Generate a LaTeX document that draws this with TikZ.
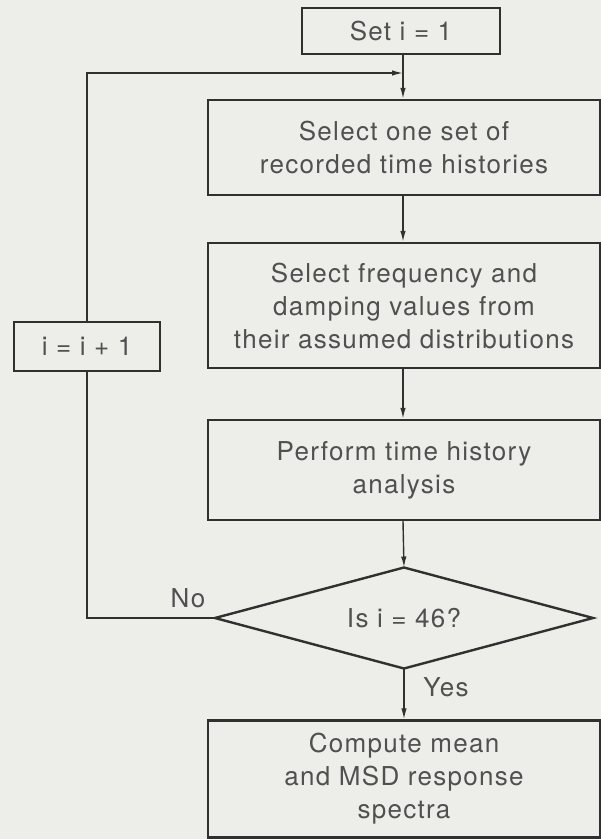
\documentclass[tikz,border=0pt]{standalone}
\usepackage{fontspec}
\setmainfont[LetterSpace=5]{TeX Gyre Heros}
\usetikzlibrary{shapes.geometric,arrows.meta}
\definecolor{bg}{HTML}{EDEDEA}
\definecolor{ln}{HTML}{303030}
\definecolor{tx}{HTML}{505050}
\begin{document}
\begin{tikzpicture}[x=1pt,y=-1pt,
  box/.style={draw=ln,line width=2.4pt,fill=none,rectangle,inner sep=0pt,
    align=center,text=tx,font=\fontsize{26}{33}\selectfont},
  dec/.style={draw=ln,line width=2.4pt,diamond,inner sep=0pt,outer sep=0pt,
    text=tx,font=\fontsize{26}{33}\selectfont},
  conn/.style={draw=ln,line width=1.4pt},
  arr/.style={conn,-{Latex[length=11pt,width=5.5pt]}},
  lbl/.style={text=tx,font=\fontsize{26}{33}\selectfont,inner sep=0pt}]
\fill[bg] (0,0) rectangle (601,839);
\useasboundingbox (0,0) rectangle (601,839);
\node[box,minimum width=198pt,minimum height=46pt] (set) at (401,31) {Set i = 1};
\node[box,minimum width=392pt,minimum height=95pt] (b1) at (404,147.5) {Select one set of\\recorded time histories};
\node[box,minimum width=392pt,minimum height=125pt] (b2) at (404,305.5) {Select frequency and\\damping values from\\their assumed distributions};
\node[box,minimum width=392pt,minimum height=100pt] (b3) at (404,470) {Perform time history\\analysis};
\node[dec,minimum width=378pt,minimum height=101pt] (dia) at (404,618)
  {\raisebox{-9pt}[0pt][0pt]{\makebox[0pt]{Is i = 46?}}};
\node[box,minimum width=392pt,minimum height=117pt] (b4) at (404,779) {Compute mean\\and MSD response\\spectra};
\node[box,minimum width=146pt,minimum height=49pt] (inc) at (87,346.5) {i = i + 1};
\coordinate (j) at (403,73);
\coordinate (tl) at (87,73);
\coordinate (bl) at (87,618);
\node[lbl] (no) at (188,598) {No};
\node[lbl] (yes) at (446,687) {Yes};
\draw[conn] (set.south -| j) -- (j);
\draw[arr] (j) -- (b1.north -| j);
\draw[arr] (b1.south -| j) -- (b2.north -| j);
\draw[arr] (b2.south -| j) -- (b3.north -| j);
\draw[arr] (b3.south -| j) -- (dia.north);
\draw[arr] (dia.south) -- (b4.north -| dia.south);
\draw[conn] (dia.west) -- (bl) -- (inc.south);
\draw[arr] (inc.north) -- (tl) -- (j);
\end{tikzpicture}
\end{document}
